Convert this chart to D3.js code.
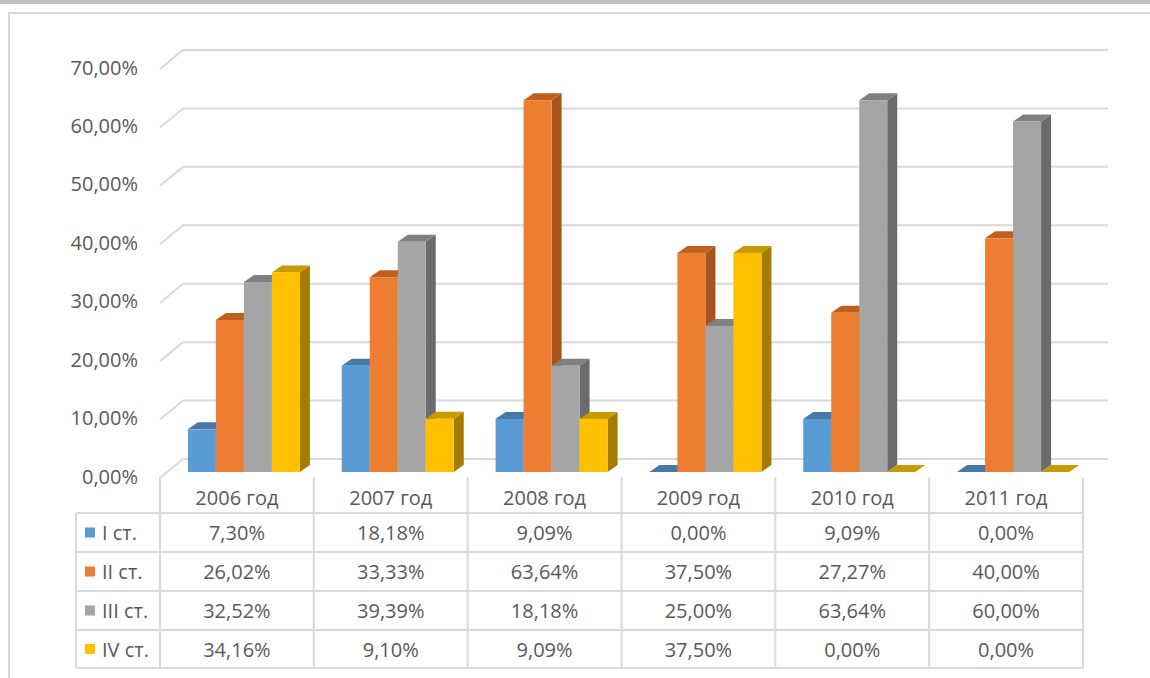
<!DOCTYPE html>
<html>
<head>
<meta charset="utf-8">
<script src="https://d3js.org/d3.v7.min.js"></script>
<style>
  html, body { margin: 0; padding: 0; background: #fff; }
  svg { display: block; }
  text { font-family: "Open Sans", sans-serif; fill: #595959; }
</style>
</head>
<body>
<svg id="chart" width="1150" height="678"></svg>
<script>
// ---- data ----
const categories = ["2006 год", "2007 год", "2008 год", "2009 год", "2010 год", "2011 год"];
const seriesNames = ["I ст.", "II ст.", "III ст.", "IV ст."];
const seriesI   = [0.0730, 0.1818, 0.0909, 0.0000, 0.0909, 0.0000];
const seriesII  = [0.2602, 0.3333, 0.6364, 0.3750, 0.2727, 0.4000];
const seriesIII = [0.3252, 0.3939, 0.1818, 0.2500, 0.6364, 0.6000];
const seriesIV  = [0.3416, 0.0910, 0.0909, 0.3750, 0.0000, 0.0000];
const yTicks = [0, 0.1, 0.2, 0.3, 0.4, 0.5, 0.6, 0.7];

const seriesValues = [seriesI, seriesII, seriesIII, seriesIV];
const colors = {
  front: ["#5B9BD5", "#ED7D31", "#A5A5A5", "#FFC000"],
  top:   ["#4678A8", "#C0601F", "#808080", "#C79A00"],
  side:  ["#3D6A95", "#A6541B", "#6B6B6B", "#A57C00"]
};

const svg = d3.select("#chart");
const fmt = v => d3.format(".2f")(v * 100).replace(".", ",") + "%";

// frame
svg.append("rect").attr("x", 0).attr("y", 0).attr("width", 1150).attr("height", 4).attr("fill", "#BFBFBF");
svg.append("rect").attr("x", 9).attr("y", 13).attr("width", 1200).attr("height", 700)
  .attr("fill", "none").attr("stroke", "#D9D9D9").attr("stroke-width", 2);

// geometry
const colLeft = 160, colRight = 1083;
const x = d3.scaleBand().domain(categories).range([colLeft, colRight]).padding(0);
const h = d3.scaleLinear().domain([0, 0.7]).range([0, 409]);
const frontY0 = 478, backY0 = 459, floorDx = 23;
const barY0 = 472, barDx = 10, barDy = -7, barW = 28;
const wallRight = 1108;
const inner = d3.scaleBand().domain(d3.range(seriesNames.length)).range([0, barW * 4]);

// gridlines (back wall + left diagonal)
const grid = svg.append("g");
yTicks.forEach(t => {
  const yb = backY0 - h(t), yf = frontY0 - h(t);
  grid.append("line").attr("x1", colLeft + floorDx).attr("x2", wallRight)
    .attr("y1", yb).attr("y2", yb).attr("stroke", "#D9D9D9").attr("stroke-width", 2);
  grid.append("line").attr("x1", colLeft).attr("y1", yf).attr("x2", colLeft + floorDx).attr("y2", yb)
    .attr("stroke", "#D9D9D9").attr("stroke-width", 2);
  svg.append("text").attr("x", 138).attr("y", yf - 2).attr("text-anchor", "end")
    .attr("dominant-baseline", "central").attr("font-size", 20).text(fmt(t));
});

// bars
const bars = svg.append("g");
categories.forEach((c, ci) => {
  const gx = x(c) + x.bandwidth() / 2 + 7 - barW * 2;
  seriesValues.forEach((vals, si) => {
    const v = vals[ci];
    const x0 = gx + inner(si), x1 = x0 + barW;
    const yt = barY0 - h(v);
    // side
    bars.append("path").attr("fill", colors.side[si])
      .attr("d", `M${x1},${yt}L${x1 + barDx},${yt + barDy}L${x1 + barDx},${barY0 + barDy}L${x1},${barY0}Z`);
    // top
    bars.append("path").attr("fill", colors.top[si])
      .attr("d", `M${x0},${yt}L${x0 + barDx},${yt + barDy}L${x1 + barDx},${yt + barDy}L${x1},${yt}Z`);
    // front
    bars.append("rect").attr("x", x0).attr("y", yt).attr("width", barW).attr("height", barY0 - yt)
      .attr("fill", colors.front[si]);
  });
});

// data table
const tbl = svg.append("g");
const lineC = "#D9D9D9";
const headTop = 477;
const rowLines = [513, 552, 591, 630, 668];
const legLeft = 76;
rowLines.forEach(y => {
  tbl.append("line").attr("x1", legLeft).attr("x2", colRight).attr("y1", y).attr("y2", y)
    .attr("stroke", lineC).attr("stroke-width", 2);
});
tbl.append("line").attr("x1", legLeft).attr("x2", legLeft).attr("y1", rowLines[0]).attr("y2", rowLines[4])
  .attr("stroke", lineC).attr("stroke-width", 2);
categories.concat([null]).forEach((c, i) => {
  const xx = c === null ? colRight : x(c);
  tbl.append("line").attr("x1", xx).attr("x2", xx).attr("y1", headTop).attr("y2", rowLines[4])
    .attr("stroke", lineC).attr("stroke-width", 2);
});
categories.forEach(c => {
  tbl.append("text").attr("x", x(c) + x.bandwidth() / 2).attr("y", (headTop + rowLines[0]) / 2 + 2)
    .attr("text-anchor", "middle").attr("dominant-baseline", "central").attr("font-size", 20).text(c);
});
seriesNames.forEach((s, si) => {
  const yc = (rowLines[si] + rowLines[si + 1]) / 2;
  tbl.append("rect").attr("x", 85).attr("y", yc - 5).attr("width", 10).attr("height", 10)
    .attr("fill", colors.front[si]);
  tbl.append("text").attr("x", 102).attr("y", yc).attr("dominant-baseline", "central")
    .attr("font-size", 20).text(s);
  categories.forEach((c, ci) => {
    tbl.append("text").attr("x", x(c) + x.bandwidth() / 2).attr("y", yc)
      .attr("text-anchor", "middle").attr("dominant-baseline", "central").attr("font-size", 20)
      .text(fmt(seriesValues[si][ci]));
  });
});
</script>
</body>
</html>
